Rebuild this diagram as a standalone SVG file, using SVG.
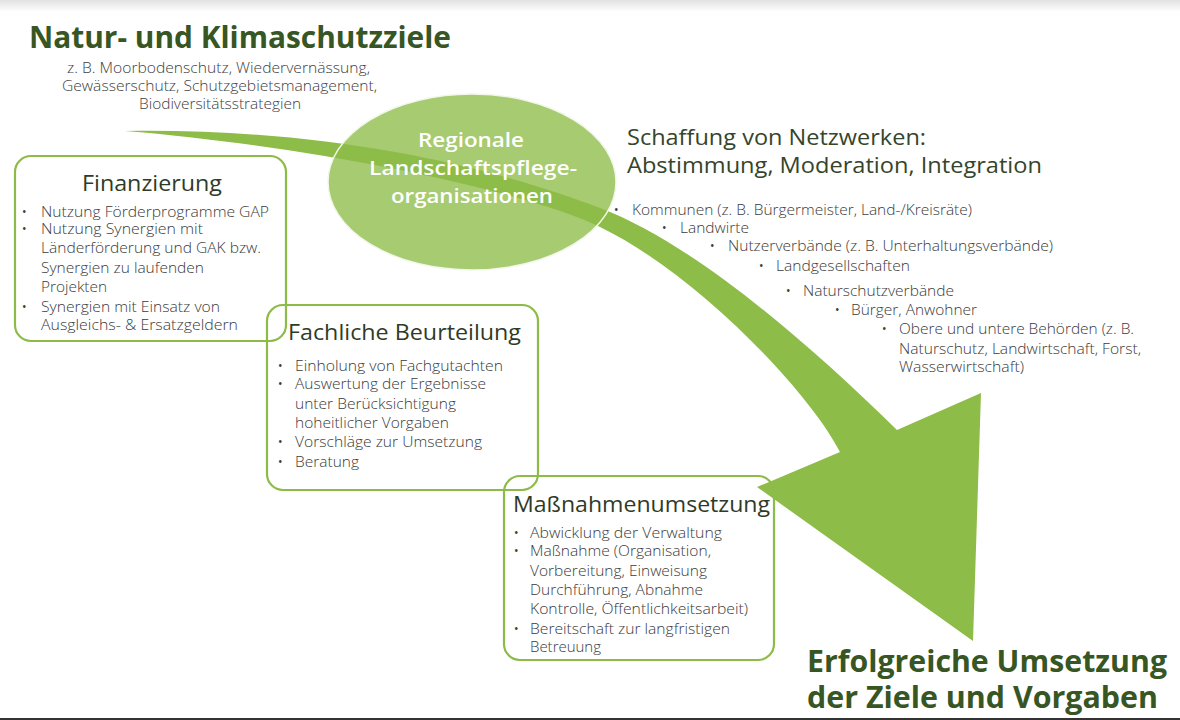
<svg xmlns="http://www.w3.org/2000/svg" width="1180" height="720" viewBox="0 0 1180 720">
<defs>
<linearGradient id="topShade" x1="0" y1="0" x2="0" y2="1">
<stop offset="0" stop-color="#e2e2e2"/>
<stop offset="1" stop-color="#ffffff"/>
</linearGradient>
</defs>
<style>
.title{font-family:"Open Sans","Noto Sans","Liberation Sans",sans-serif;font-weight:700;fill:#375623;font-size:30px}
.sub{font-family:"Open Sans","Noto Sans","Liberation Sans",sans-serif;font-weight:300;fill:#404040;font-size:14px}
.body{font-family:"Open Sans","Noto Sans","Liberation Sans",sans-serif;font-weight:300;fill:#3a3a3a;font-size:14px}
.bul{font-family:"Open Sans","Noto Sans","Liberation Sans",sans-serif;fill:#3a3a3a;font-size:12px}
.head{font-family:"Open Sans","Noto Sans","Liberation Sans",sans-serif;font-weight:400;fill:#2f3b26;font-size:21px}
.net{font-family:"Open Sans","Noto Sans","Liberation Sans",sans-serif;font-weight:400;fill:#34452a;font-size:22px}
.ell{font-family:"Open Sans","Noto Sans","Liberation Sans",sans-serif;font-weight:600;fill:#ffffff;font-size:20px}
.box{fill:none;stroke:#8dbb47;stroke-width:2.2}
.arrow{fill:#8ebc49}
</style>
<rect x="0" y="0" width="1180" height="720" fill="#ffffff"/>
<rect x="0" y="0" width="1180" height="12" fill="url(#topShade)"/>
<rect x="0" y="718" width="1180" height="2" fill="#333333"/>

<g id="goals">
<text class="title" x="29" y="48" textLength="422" lengthAdjust="spacingAndGlyphs">Natur- und Klimaschutzziele</text>
<text class="sub" x="67" y="73" textLength="303" lengthAdjust="spacingAndGlyphs">z. B. Moorbodenschutz, Wiedervernässung,</text>
<text class="sub" x="62" y="91" textLength="315" lengthAdjust="spacingAndGlyphs">Gewässerschutz, Schutzgebietsmanagement,</text>
<text class="sub" x="139" y="109" textLength="162" lengthAdjust="spacingAndGlyphs">Biodiversitätsstrategien</text>
</g>

<g id="finanzierung">
<rect class="box" x="15" y="156" width="271" height="185" rx="16"/>
<text class="head" x="82" y="191" textLength="140" lengthAdjust="spacingAndGlyphs">Finanzierung</text>
<text class="bul" x="22" y="216">•</text>
<text class="body" x="41" y="217" textLength="228" lengthAdjust="spacingAndGlyphs">Nutzung Förderprogramme GAP</text>
<text class="bul" x="22" y="233">•</text>
<text class="body" x="41" y="234" textLength="162" lengthAdjust="spacingAndGlyphs">Nutzung Synergien mit</text>
<text class="body" x="41" y="253" textLength="220" lengthAdjust="spacingAndGlyphs">Länderförderung und GAK bzw.</text>
<text class="body" x="41" y="273" textLength="163" lengthAdjust="spacingAndGlyphs">Synergien zu laufenden</text>
<text class="body" x="41" y="292" textLength="66" lengthAdjust="spacingAndGlyphs">Projekten</text>
<text class="bul" x="22" y="311">•</text>
<text class="body" x="41" y="312" textLength="179" lengthAdjust="spacingAndGlyphs">Synergien mit Einsatz von</text>
<text class="body" x="41" y="330" textLength="197" lengthAdjust="spacingAndGlyphs">Ausgleichs- &amp; Ersatzgeldern</text>
</g>

<g id="fachliche-beurteilung">
<rect class="box" x="267" y="305" width="271" height="185" rx="16"/>
<text class="head" x="288" y="340" textLength="233" lengthAdjust="spacingAndGlyphs">Fachliche Beurteilung</text>
<text class="bul" x="278" y="370">•</text>
<text class="body" x="295" y="371" textLength="208" lengthAdjust="spacingAndGlyphs">Einholung von Fachgutachten</text>
<text class="bul" x="278" y="388">•</text>
<text class="body" x="295" y="389" textLength="191" lengthAdjust="spacingAndGlyphs">Auswertung der Ergebnisse</text>
<text class="body" x="295" y="409" textLength="161" lengthAdjust="spacingAndGlyphs">unter Berücksichtigung</text>
<text class="body" x="295" y="428" textLength="154" lengthAdjust="spacingAndGlyphs">hoheitlicher Vorgaben</text>
<text class="bul" x="278" y="446">•</text>
<text class="body" x="295" y="447" textLength="187" lengthAdjust="spacingAndGlyphs">Vorschläge zur Umsetzung</text>
<text class="bul" x="278" y="466">•</text>
<text class="body" x="295" y="467" textLength="64" lengthAdjust="spacingAndGlyphs">Beratung</text>
</g>

<g id="massnahmenumsetzung">
<rect class="box" x="504" y="476" width="270" height="184" rx="16"/>
<text class="head" x="513" y="512" textLength="257" lengthAdjust="spacingAndGlyphs">Maßnahmenumsetzung</text>
<text class="bul" x="514" y="537">•</text>
<text class="body" x="530" y="538" textLength="192" lengthAdjust="spacingAndGlyphs">Abwicklung der Verwaltung</text>
<text class="bul" x="514" y="555">•</text>
<text class="body" x="530" y="556" textLength="181" lengthAdjust="spacingAndGlyphs">Maßnahme (Organisation,</text>
<text class="body" x="530" y="576" textLength="177" lengthAdjust="spacingAndGlyphs">Vorbereitung, Einweisung</text>
<text class="body" x="530" y="595" textLength="173" lengthAdjust="spacingAndGlyphs">Durchführung, Abnahme</text>
<text class="body" x="530" y="614" textLength="218" lengthAdjust="spacingAndGlyphs">Kontrolle, Öffentlichkeitsarbeit)</text>
<text class="bul" x="514" y="633">•</text>
<text class="body" x="530" y="634" textLength="200" lengthAdjust="spacingAndGlyphs">Bereitschaft zur langfristigen</text>
<text class="body" x="530" y="652" textLength="71" lengthAdjust="spacingAndGlyphs">Betreuung</text>
</g>

<g id="connectors">
<path class="arrow" d="M125,131 C330,128 490,166 600,208 C690,242 800,335 897,430 L981,393 L973,641 L757,487 L840,452 C805,385 690,270 600,227 C519,188 300,145 125,131 Z"/>
</g>

<g id="regionale-lpo">
<ellipse cx="472" cy="182" rx="144" ry="88" fill="#8ebc49" fill-opacity="0.78" stroke="#f2f7ea" stroke-width="1.5"/>
<text class="ell" x="471" y="147" text-anchor="middle" textLength="106" lengthAdjust="spacingAndGlyphs">Regionale</text>
<text class="ell" x="473" y="175" text-anchor="middle" textLength="208" lengthAdjust="spacingAndGlyphs">Landschaftspflege-</text>
<text class="ell" x="472" y="203" text-anchor="middle" textLength="162" lengthAdjust="spacingAndGlyphs">organisationen</text>
</g>

<g id="netzwerke">
<text class="net" x="627" y="145" textLength="299" lengthAdjust="spacingAndGlyphs">Schaffung von Netzwerken:</text>
<text class="net" x="627" y="173" textLength="415" lengthAdjust="spacingAndGlyphs">Abstimmung, Moderation, Integration</text>
<text class="bul" x="614" y="214">•</text>
<text class="body" x="632" y="215" textLength="340" lengthAdjust="spacingAndGlyphs">Kommunen (z. B. Bürgermeister, Land-/Kreisräte)</text>
<text class="bul" x="662" y="232">•</text>
<text class="body" x="680" y="233" textLength="69" lengthAdjust="spacingAndGlyphs">Landwirte</text>
<text class="bul" x="710" y="250">•</text>
<text class="body" x="728" y="251" textLength="325" lengthAdjust="spacingAndGlyphs">Nutzerverbände (z. B. Unterhaltungsverbände)</text>
<text class="bul" x="759" y="270">•</text>
<text class="body" x="776" y="271" textLength="134" lengthAdjust="spacingAndGlyphs">Landgesellschaften</text>
<text class="bul" x="786" y="295">•</text>
<text class="body" x="803" y="296" textLength="151" lengthAdjust="spacingAndGlyphs">Naturschutzverbände</text>
<text class="bul" x="835" y="314">•</text>
<text class="body" x="851" y="315" textLength="126" lengthAdjust="spacingAndGlyphs">Bürger, Anwohner</text>
<text class="bul" x="882" y="333">•</text>
<text class="body" x="899" y="334" textLength="235" lengthAdjust="spacingAndGlyphs">Obere und untere Behörden (z. B.</text>
<text class="body" x="899" y="354" textLength="242" lengthAdjust="spacingAndGlyphs">Naturschutz, Landwirtschaft, Forst,</text>
<text class="body" x="899" y="372" textLength="125" lengthAdjust="spacingAndGlyphs">Wasserwirtschaft)</text>
</g>

<g id="ergebnis">
<text class="title" x="807" y="672" textLength="360" lengthAdjust="spacingAndGlyphs">Erfolgreiche Umsetzung</text>
<text class="title" x="807" y="708" textLength="351" lengthAdjust="spacingAndGlyphs">der Ziele und Vorgaben</text>
</g>
</svg>
